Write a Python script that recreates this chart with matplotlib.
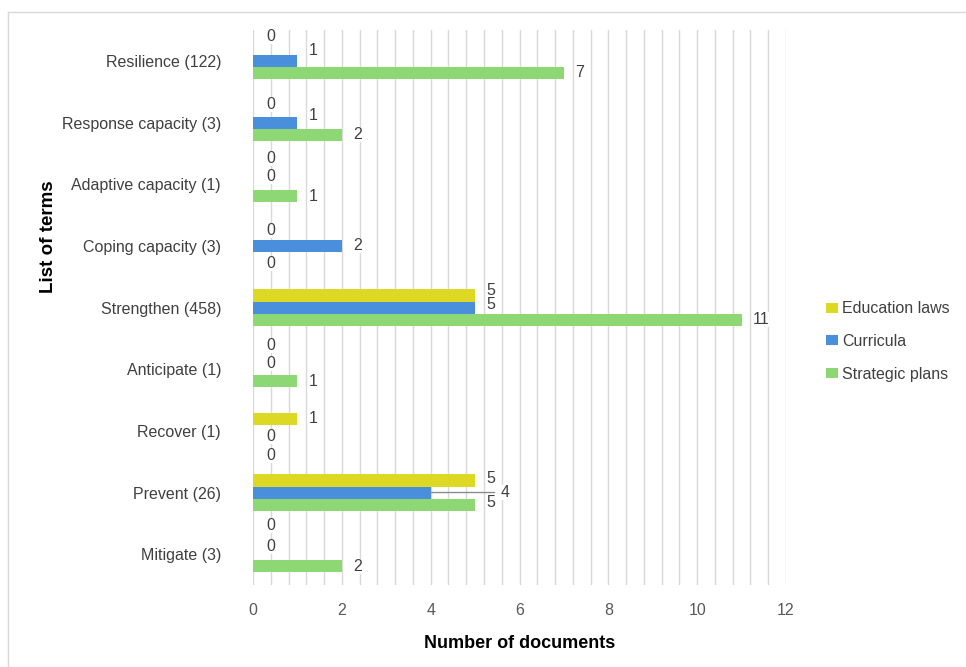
import numpy as np
import matplotlib.pyplot as plt
from matplotlib.lines import Line2D
from matplotlib.patches import Patch

plt.rcParams['font.family'] = ['Liberation Sans', 'DejaVu Sans']

# terms (top to bottom) and document counts per source
terms = ['Resilience (122)', 'Response capacity (3)', 'Adaptive capacity (1)',
         'Coping capacity (3)', 'Strengthen (458)', 'Anticipate (1)',
         'Recover (1)', 'Prevent (26)', 'Mitigate (3)']
series = ['Education laws', 'Curricula', 'Strategic plans']
education_laws = [0, 0, 0, 0, 5, 0, 1, 5, 0]
curricula = [1, 1, 0, 2, 5, 0, 0, 4, 0]
strategic_plans = [7, 2, 1, 0, 11, 1, 0, 5, 2]
colors = ['#dcd824', '#4a8fdb', '#8dd874']

# vertical nudges (pixels, up is positive) so the labels do not collide
label_dy = [[12, 10, 0], [6, 7, 0], [14, 8, 0], [3, 0, -6], [5, 3, 0],
            [12, 6, 0], [0, -6, -13], [2, 0, 2], [17, 8, 0]]

values = [education_laws, curricula, strategic_plans]
y = np.arange(len(terms))
h = 0.195

fig = plt.figure(figsize=(9.66, 6.67), dpi=100)
ax = fig.add_axes([0.2619, 0.1229, 0.5518, 0.8321])

for k, (vals, col) in enumerate(zip(values, colors)):
    pos = y + (k - 1) * h
    ax.barh(pos, vals, height=h, color=col, zorder=3)
    for i, v in enumerate(vals):
        dx = 11 if v > 0 else 13
        if k == 1 and terms[i].startswith('Prevent'):
            dx = 70
            # leader line for the moved label
            ax.annotate('', xy=(v, pos[i]), xytext=(dx - 6, 0),
                        textcoords='offset pixels',
                        arrowprops=dict(arrowstyle='-', color='#8c8c8c', lw=1,
                                        shrinkA=0, shrinkB=0))
        ax.annotate(str(v), xy=(v, pos[i]), xytext=(dx, label_dy[i][k]),
                    textcoords='offset pixels', ha='left', va='center',
                    fontsize=11.5, color='#404040', zorder=4,
                    bbox=dict(facecolor='white', edgecolor='none', pad=0))

ax.set_ylim(len(terms) - 0.5, -0.5)
ax.set_xlim(0, 12)
ax.set_xticks(np.arange(0, 13, 2))
ax.set_xticks(np.arange(0, 12.01, 0.4), minor=True)
ax.set_yticks(y)
ax.set_yticklabels(terms)
ax.grid(axis='x', which='both', color='#d9d9d9', lw=1, zorder=0)
ax.tick_params(axis='x', which='both', length=0, pad=13, labelsize=11.5, labelcolor='#595959')
ax.tick_params(axis='y', length=0, pad=23, labelsize=11.5, labelcolor='#404040')
for s in ax.spines.values():
    s.set_visible(False)

ax.set_xlabel('Number of documents', fontsize=13, fontweight='bold', labelpad=12)
ax.set_ylabel('List of terms', fontsize=13.5, fontweight='bold')
ax.yaxis.set_label_coords(-0.368, 0.627)

handles = [Patch(facecolor=c, label=s) for c, s in zip(colors, series)]
fig.legend(handles=handles, loc='center left', bbox_to_anchor=(0.855, 0.488),
           frameon=False, fontsize=11.5, labelspacing=1.1, handlelength=0.75,
           handleheight=0.6, handletextpad=0.25, borderpad=0, borderaxespad=0,
           labelcolor='#404040')

# light frame around the chart area
fig.add_artist(Line2D([0.008, 0.008], [0.0, 0.982], color='#d9d9d9', lw=1))
fig.add_artist(Line2D([0.008, 1.0], [0.982, 0.982], color='#d9d9d9', lw=1))

fig.savefig('out.png', dpi=100)
